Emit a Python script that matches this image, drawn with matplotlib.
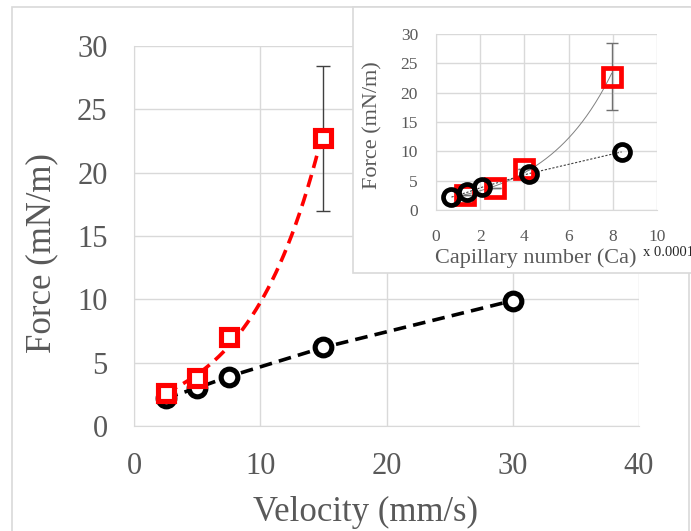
import numpy as np
import matplotlib
matplotlib.use('Agg')
import matplotlib.pyplot as plt
from matplotlib.patches import Rectangle

plt.rcParams['font.family'] = ['Liberation Serif', 'DejaVu Serif']

# Dane - wykres glowny (predkosc)
vel_black = [2.5, 5, 7.5, 15, 30]
force_black = [2.2, 3.0, 3.9, 6.2, 9.9]
vel_red = [2.5, 5, 7.5, 15]
force_red = [2.6, 3.8, 7.0, 22.7]
red_err_low = [0, 0, 0, 5.7]
red_err_high = [0, 0, 0, 5.7]

# Dane - wstawka (liczba kapilarna, x 0.0001)
ca_black = [0.7, 1.4, 2.1, 4.2, 8.4]
ca_red = [1.3, 2.65, 4.0, 7.95]

gray_txt = '#595959'
grid_c = '#d9d9d9'

fig = plt.figure(figsize=(6.91, 5.31), dpi=100)

# ramka calego wykresu
fig.patches.append(Rectangle((12 / 691, -0.05), 677 / 691, 1.05 - 7 / 531,
                             transform=fig.transFigure, fill=False,
                             edgecolor='#d9d9d9', lw=1.2, zorder=0))


def exp_trend(x, y, xs):
    b, a = np.polyfit(x, np.log(y), 1)
    return np.exp(a) * np.exp(b * xs)


def style_axes(ax, tick_size):
    for s in ['top', 'right']:
        ax.spines[s].set_visible(False)
    for s in ['left', 'bottom']:
        ax.spines[s].set_color(grid_c)
    ax.grid(True, color=grid_c, lw=1)
    ax.set_axisbelow(True)
    ax.tick_params(length=0, labelsize=tick_size, colors=gray_txt)


# --- wykres glowny ---
ax = fig.add_axes([134 / 691, 1 - 426 / 531, 505 / 691, 380 / 531])
style_axes(ax, 22)
ax.set_xlim(0, 40)
ax.set_ylim(0, 30)
ax.set_xticks(range(0, 41, 10))
ax.set_yticks(range(0, 31, 5))
ax.tick_params(axis='x', pad=18.5)
ax.tick_params(axis='y', pad=19)

xs = np.linspace(min(vel_red), max(vel_red), 200)
ax.plot(xs, exp_trend(vel_red, force_red, xs), color='#ff0000', lw=2.6,
        dashes=(3.5, 2), zorder=2)
ax.plot(vel_black, force_black, color='black', lw=2.6, dashes=(3.5, 2), zorder=2)
ax.errorbar(vel_red, force_red, yerr=[red_err_low, red_err_high], fmt='none',
            ecolor='#404040', elinewidth=1, capsize=5, zorder=3)
ax.plot(vel_black, force_black, 'o', ms=12, mfc='white', mec='black', mew=3.7, zorder=4)
ax.plot(vel_red, force_red, 's', ms=12, mfc='white', mec='#ff0000', mew=3.7, zorder=5)

ax.set_xlabel('Velocity (mm/s)', fontsize=25, color=gray_txt)
ax.set_ylabel('Force (mN/m)', fontsize=25, color=gray_txt)
ax.xaxis.set_label_coords(0.459, -0.185)
ax.yaxis.set_label_coords(-0.15, 0.455)

# --- wstawka ---
fig.patches.append(Rectangle((353 / 691, 1 - 273 / 531), 0.6, 266 / 531,
                             transform=fig.transFigure, facecolor='white',
                             edgecolor='#d9d9d9', lw=1.2, zorder=5))

ins = fig.add_axes([436 / 691, 1 - 210 / 531, 221 / 691, 176 / 531], zorder=6)
style_axes(ins, 12.5)
ins.set_xlim(0, 10)
ins.set_ylim(0, 30)
ins.set_xticks(range(0, 11, 2))
ins.set_yticks(range(0, 31, 5))
ins.tick_params(axis='x', pad=13.5)
ins.tick_params(axis='y', pad=13)

xs2 = np.linspace(min(ca_red), max(ca_red), 200)
ins.plot(xs2, exp_trend(ca_red, force_red, xs2), color='#808080', lw=0.7, zorder=2)
ins.plot(ca_black, force_black, color='#404040', lw=0.8, ls=(0, (2, 1.5)), zorder=2)
ins.errorbar(ca_red, force_red, yerr=[red_err_low, red_err_high], fmt='none',
             ecolor='#707070', elinewidth=1, capsize=4, zorder=3)
ins.plot(ca_red, force_red, 's', ms=13, mfc='none', mec='#ff0000', mew=3.4, zorder=4)
ins.plot(ca_black, force_black, 'o', ms=11.5, mfc='none', mec='black', mew=3.4, zorder=5)

ins.set_xlabel('Capillary number (Ca)', fontsize=16, color=gray_txt)
ins.set_ylabel('Force (mN/m)', fontsize=16, color=gray_txt)
ins.xaxis.set_label_coords(0.452, -0.22)
ins.yaxis.set_label_coords(-0.24, 0.483)
fig.text(643 / 691, 1 - 253 / 531, 'x 0.0001', fontsize=10.5, color='#262626',
         va='center', zorder=7)

plt.savefig('out.png', dpi=100)
